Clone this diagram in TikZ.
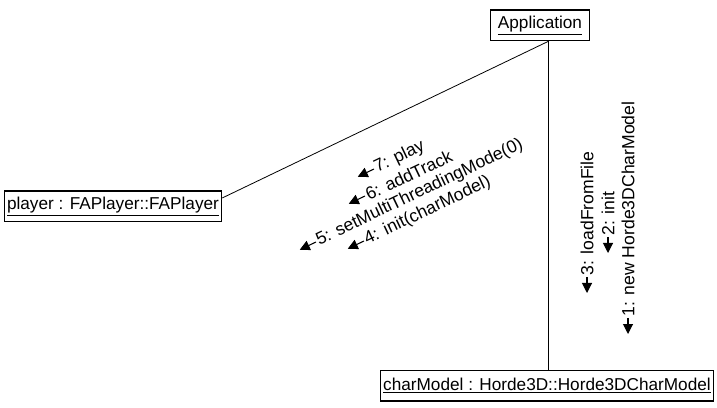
\documentclass[tikz,border=0pt]{standalone}
\usepackage{fontspec}
\setmainfont{Liberation Sans}
\usepackage{tikz}
\usetikzlibrary{arrows.meta, positioning}

\begin{document}
\begin{tikzpicture}[x=0.75pt, y=0.75pt,
    box/.style={rectangle, draw, line width=1pt, minimum height=23pt,
                inner xsep=2pt, font=\fontsize{12.9}{15}\selectfont},
    lbl/.style={font=\fontsize{13.2}{16}\selectfont, inner sep=1pt, anchor=west},
    msg/.style={-{Triangle[length=7.5pt, width=7.5pt]}, line width=0.8pt}
]
\useasboundingbox (0,0) rectangle (717,407);
\node[box, minimum width=74pt] (app)    at (540,381.5) {\underline{Application}};
\node[box]                  (player)    at (113,200.5) {\underline{player : FAPlayer::FAPlayer}};
\node[box]                  (charModel) at (547,21.5)  {\underline{charModel : Horde3D::Horde3DCharModel}};
\coordinate (hub) at ([xshift=6pt]app.south);
\draw[line width=0.6pt] (hub) -- ([yshift=6.4pt]player.east);
\draw[line width=0.6pt] (hub) -- (hub |- charModel.north);
% messages to the player
\node[lbl, rotate=25.5] (m7) at (374,238) {7: play};
\node[lbl, rotate=25.5] (m6) at (365,211) {6: addTrack};
\node[lbl, rotate=25.5] (m5) at (316,165) {5: setMultiThreadingMode(0)};
\node[lbl, rotate=25.5] (m4) at (364,166) {4: init(charModel)};
\foreach \m in {m7,m6,m5,m4}
    \draw[msg] (\m.west) -- +(205.5:18);
% messages to the model
\node[lbl, rotate=90] (m3) at (587,130) {3: loadFromFile};
\node[lbl, rotate=90] (m2) at (608,170) {2: init};
\node[lbl, rotate=90] (m1) at (628,89)  {1: new Horde3DCharModel};
\foreach \m in {m3,m2,m1}
    \draw[msg] (\m.west) -- +(0,-16);
\end{tikzpicture}
\end{document}
